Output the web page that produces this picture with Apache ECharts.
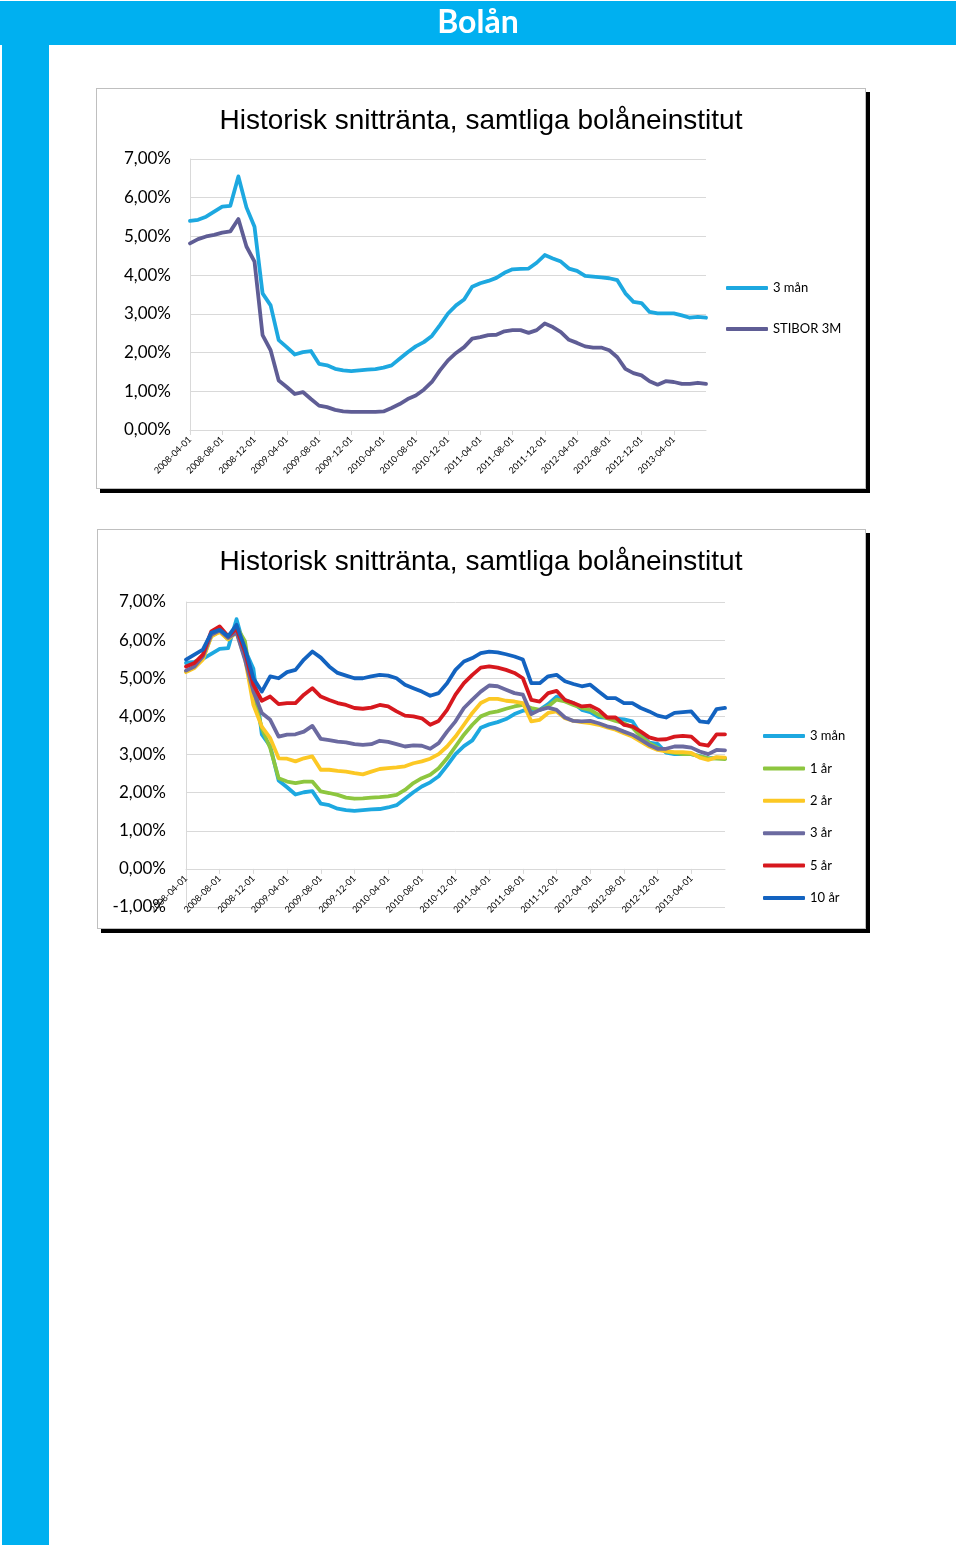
<!DOCTYPE html>
<html>
<head>
<meta charset="utf-8">
<script src="https://cdn.jsdelivr.net/npm/echarts@6/dist/echarts.min.js"></script>
<style>
html,body{margin:0;padding:0;background:#fff;}
#page{position:relative;width:960px;height:1551px;overflow:hidden;background:#fff;}
.band{position:absolute;background:#00B0F0;}
.box{position:absolute;background:#fff;border:1px solid #BFBFBF;box-shadow:4px 4px 0 0 #000;box-sizing:border-box;}
#main{position:absolute;left:0;top:0;width:960px;height:1551px;}
</style>
</head>
<body>
<div id="page">
  <div class="band" style="left:0;top:1px;width:956px;height:44px;"></div>
  <div class="band" style="left:2px;top:1px;width:47px;height:1544px;"></div>
  <div class="box" style="left:96px;top:88px;width:770px;height:401px;"></div>
  <div class="box" style="left:97px;top:529px;width:769px;height:400px;"></div>
  <div id="main"></div>
</div>
<script>
// Categories (monthly)
const categories = [
  '2008-04-01','2008-05-01','2008-06-01','2008-07-01','2008-08-01','2008-09-01','2008-10-01','2008-11-01','2008-12-01',
  '2009-01-01','2009-02-01','2009-03-01','2009-04-01','2009-05-01','2009-06-01','2009-07-01','2009-08-01','2009-09-01','2009-10-01','2009-11-01','2009-12-01',
  '2010-01-01','2010-02-01','2010-03-01','2010-04-01','2010-05-01','2010-06-01','2010-07-01','2010-08-01','2010-09-01','2010-10-01','2010-11-01','2010-12-01',
  '2011-01-01','2011-02-01','2011-03-01','2011-04-01','2011-05-01','2011-06-01','2011-07-01','2011-08-01','2011-09-01','2011-10-01','2011-11-01','2011-12-01',
  '2012-01-01','2012-02-01','2012-03-01','2012-04-01','2012-05-01','2012-06-01','2012-07-01','2012-08-01','2012-09-01','2012-10-01','2012-11-01','2012-12-01',
  '2013-01-01','2013-02-01','2013-03-01','2013-04-01','2013-05-01','2013-06-01','2013-07-01','2013-08-01'
];
const tickLabels = ['2008-04-01','2008-08-01','2008-12-01','2009-04-01','2009-08-01','2009-12-01','2010-04-01','2010-08-01',
  '2010-12-01','2011-04-01','2011-08-01','2011-12-01','2012-04-01','2012-08-01','2012-12-01','2013-04-01'];

const chartTitle = 'Historisk snittränta, samtliga bolåneinstitut';
const pageTitle = 'Bolån';

// Series values (%)
const man3 = [5.40,5.43,5.51,5.64,5.77,5.79,6.55,5.75,5.25,3.53,
  3.22,2.32,2.14,1.95,2.01,2.04,1.71,1.67,1.58,1.54,
  1.52,1.54,1.56,1.57,1.61,1.67,1.84,2.01,2.16,2.27,
  2.43,2.71,3.01,3.22,3.37,3.70,3.79,3.85,3.93,4.06,
  4.15,4.16,4.17,4.32,4.52,4.43,4.35,4.17,4.11,3.98,
  3.96,3.94,3.92,3.87,3.53,3.31,3.28,3.05,3.01,3.01,
  3.01,2.96,2.90,2.92,2.90];
const stibor3m = [4.82,4.93,5.00,5.04,5.10,5.13,5.45,4.74,4.35,2.45,
  2.06,1.28,1.11,0.93,0.98,0.80,0.63,0.59,0.52,0.48,
  0.47,0.47,0.47,0.47,0.48,0.57,0.67,0.80,0.89,1.04,
  1.24,1.54,1.80,1.99,2.14,2.36,2.40,2.45,2.46,2.55,
  2.58,2.58,2.51,2.58,2.75,2.66,2.53,2.33,2.25,2.16,
  2.13,2.13,2.06,1.88,1.58,1.47,1.41,1.26,1.17,1.26,
  1.24,1.19,1.19,1.22,1.19];
const ar1 = [5.18,5.29,5.52,6.10,6.23,6.02,6.35,5.97,4.57,3.69,
  3.17,2.38,2.29,2.25,2.29,2.29,2.03,1.99,1.94,1.87,
  1.84,1.85,1.87,1.88,1.90,1.94,2.07,2.25,2.38,2.47,
  2.64,2.90,3.21,3.52,3.78,4.00,4.09,4.13,4.20,4.26,
  4.30,4.22,4.17,4.26,4.44,4.39,4.30,4.22,4.17,4.04,
  3.95,3.88,3.82,3.71,3.47,3.30,3.18,3.08,3.04,3.01,
  3.01,2.95,2.90,2.89,2.88];
const ar2 = [5.16,5.27,5.49,6.10,6.21,6.02,6.20,5.53,4.30,3.73,
  3.43,2.90,2.89,2.82,2.90,2.95,2.60,2.60,2.57,2.55,
  2.51,2.48,2.55,2.62,2.64,2.66,2.69,2.77,2.82,2.89,
  3.01,3.21,3.47,3.78,4.09,4.35,4.46,4.46,4.41,4.39,
  4.35,3.87,3.91,4.09,4.13,3.95,3.88,3.85,3.82,3.78,
  3.71,3.65,3.56,3.47,3.34,3.21,3.12,3.08,3.06,3.06,
  3.04,2.92,2.86,2.93,2.92];
const ar3 = [5.20,5.31,5.57,6.14,6.25,6.06,6.20,5.49,4.65,4.09,
  3.91,3.47,3.52,3.53,3.60,3.75,3.41,3.38,3.34,3.32,
  3.27,3.25,3.27,3.36,3.33,3.27,3.21,3.24,3.23,3.15,
  3.30,3.60,3.87,4.22,4.44,4.65,4.81,4.79,4.70,4.61,
  4.57,4.06,4.17,4.23,4.17,3.97,3.88,3.87,3.88,3.82,
  3.74,3.69,3.60,3.52,3.39,3.25,3.15,3.15,3.21,3.21,
  3.18,3.08,3.01,3.12,3.11];
const ar5 = [5.31,5.40,5.62,6.23,6.36,6.10,6.30,5.70,4.83,4.41,
  4.52,4.32,4.35,4.35,4.57,4.74,4.52,4.43,4.35,4.30,
  4.22,4.20,4.23,4.30,4.26,4.13,4.02,4.00,3.95,3.78,
  3.88,4.17,4.57,4.87,5.09,5.28,5.31,5.28,5.22,5.14,
  5.00,4.43,4.39,4.61,4.67,4.43,4.35,4.26,4.28,4.17,
  3.97,3.97,3.78,3.74,3.60,3.45,3.39,3.40,3.47,3.49,
  3.47,3.27,3.23,3.53,3.53];
const ar10 = [5.49,5.62,5.75,6.19,6.27,6.10,6.40,5.79,5.00,4.65,
  5.05,5.00,5.16,5.22,5.49,5.70,5.54,5.31,5.14,5.07,
  5.00,5.00,5.05,5.09,5.07,5.00,4.83,4.74,4.65,4.54,
  4.61,4.87,5.22,5.44,5.53,5.66,5.70,5.68,5.63,5.57,
  5.49,4.87,4.87,5.05,5.09,4.92,4.85,4.79,4.83,4.65,
  4.48,4.48,4.35,4.35,4.22,4.13,4.02,3.97,4.09,4.11,
  4.13,3.87,3.84,4.19,4.22];

const COLORS = {
  '3 mån': '#1DA8E0',
  'STIBOR 3M': '#5F5D95',
  '1 år': '#8DC63F',
  '2 år': '#FCC824',
  '3 år': '#6B6AA0',
  '5 år': '#D7181E',
  '10 år': '#1363C0'
};

const chart = echarts.init(document.getElementById('main'), null, {renderer: 'canvas'});
const pct = v => v.toFixed(2).replace('.', ',') + '%';
const showTick = (idx, val) => tickLabels.indexOf(val) >= 0;

function xAxis(gi, margin, offset) {
  return {
    type: 'category', gridIndex: gi, data: categories, boundaryGap: false, offset: offset,
    axisLine: {show: true, onZero: false, lineStyle: {color: '#D9D9D9', width: 1}},
    axisTick: {show: true, interval: showTick, length: 5, lineStyle: {color: '#D9D9D9'}},
    axisLabel: {interval: showTick, rotate: 45, margin: margin, fontFamily: 'Lato', fontSize: 9, color: '#000'},
    splitLine: {show: false}
  };
}
function yAxis(gi, min, max, margin) {
  return {
    type: 'value', gridIndex: gi, min: min, max: max, interval: 1,
    axisLine: {show: true, lineStyle: {color: '#D9D9D9'}},
    axisTick: {show: false},
    splitLine: {show: true, lineStyle: {color: '#D9D9D9', width: 1}},
    axisLabel: {formatter: pct, margin: margin, fontFamily: 'Lato', fontSize: 17, color: '#000'}
  };
}
function line(name, data, gi) {
  return {
    type: 'line', name: name, data: data, xAxisIndex: gi, yAxisIndex: gi,
    showSymbol: false, symbol: 'none', smooth: false,
    lineStyle: {color: COLORS[name], width: 3.8, cap: 'round', join: 'round'},
    itemStyle: {color: COLORS[name]},
    emphasis: {disabled: true}
  };
}
const legendText = {fontFamily: 'Lato', fontSize: 13, color: '#000', lineHeight: 16};

chart.setOption({
  animation: false,
  backgroundColor: 'transparent',
  grid: [
    {left: 190, top: 159, width: 516, height: 271, containLabel: false},
    {left: 186, top: 602, width: 539, height: 305, containLabel: false}
  ],
  xAxis: [xAxis(0, 8, 0), xAxis(1, 8, -38.1)],
  yAxis: [yAxis(0, 0, 7, 19), yAxis(1, -1, 7, 20)],
  legend: [
    {data: ['3 mån', 'STIBOR 3M'], orient: 'vertical', left: 721, top: 275,
     itemWidth: 42, itemHeight: 4, itemGap: 25, icon: 'roundRect', textStyle: legendText,
     selectedMode: false},
    {data: ['3 mån', '1 år', '2 år', '3 år', '5 år', '10 år'], orient: 'vertical', left: 758, top: 723,
     itemWidth: 42, itemHeight: 4, itemGap: 16.4, icon: 'roundRect', textStyle: legendText,
     selectedMode: false}
  ],
  graphic: [
    {type: 'text', x: 478, y: 23, z: 100, style: {text: pageTitle, fill: '#fff', font: 'bold 32px Lato', align: 'center', verticalAlign: 'middle'}},
    {type: 'text', x: 481, y: 121, z: 100, style: {text: chartTitle, fill: '#000', font: '28px "Liberation Sans", Arial', align: 'center', verticalAlign: 'middle'}},
    {type: 'text', x: 481, y: 562, z: 100, style: {text: chartTitle, fill: '#000', font: '28px "Liberation Sans", Arial', align: 'center', verticalAlign: 'middle'}}
  ],
  series: [
    line('3 mån', man3, 0),
    line('STIBOR 3M', stibor3m, 0),
    line('3 mån', man3, 1),
    line('1 år', ar1, 1),
    line('2 år', ar2, 1),
    line('3 år', ar3, 1),
    line('5 år', ar5, 1),
    line('10 år', ar10, 1)
  ]
});
</script>
</body>
</html>
